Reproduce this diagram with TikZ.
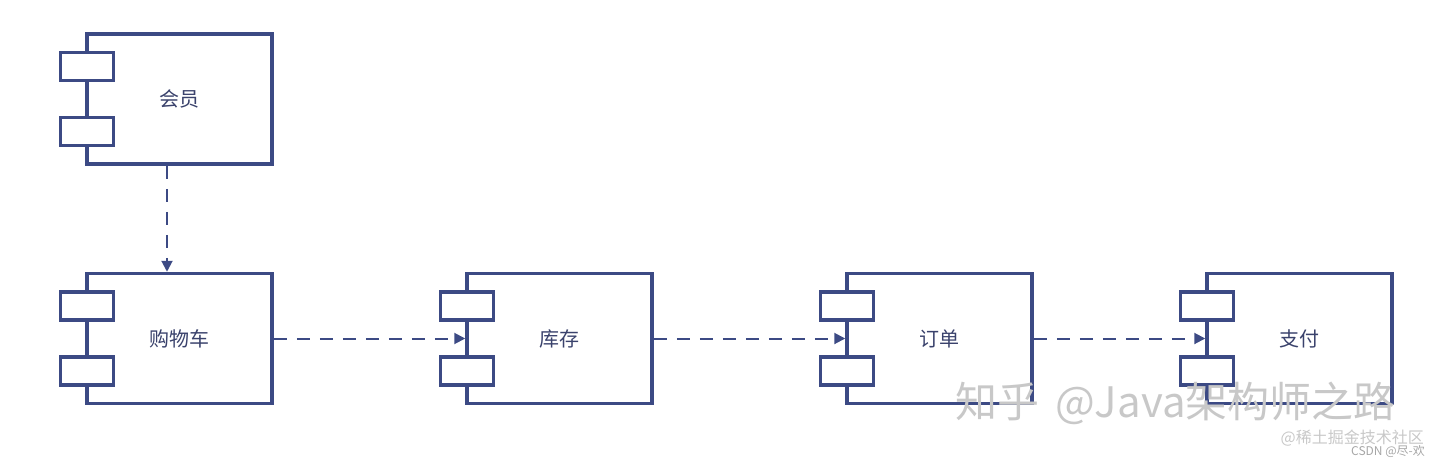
\documentclass[tikz,border=0pt]{standalone}
\usepackage{fontspec}
\setmainfont{Noto Sans CJK SC}
\usetikzlibrary{positioning,arrows.meta}

\definecolor{umlblue}{RGB}{60,74,132}
\definecolor{umltext}{RGB}{58,66,108}
\definecolor{markgray}{RGB}{200,200,200}

\begin{document}
\begin{tikzpicture}[
    x=1pt,y=-1pt,
    comp/.style={draw=umlblue, line width=3.5pt, fill=white, minimum width=185pt, minimum height=130pt,
                 inner sep=0pt, text=umltext, font=\fontsize{20pt}{24pt}\selectfont},
    port/.style={draw=umlblue, line width=3.5pt, fill=white, minimum width=53pt, minimum height=28pt, inner sep=0pt},
    dep/.style={draw=umlblue, line width=2pt, dash pattern=on 13pt off 10pt,
                -{Triangle[length=11pt,width=11pt]}},
    wmark/.style={text=markgray, inner sep=0pt}
]
    \useasboundingbox (0,0) rectangle (1440,466);

    % components
    \node[comp] (hy)  at (179.5,99)    {会员};
    \node[comp] (gwc) at (179.5,338.5) {购物车};
    \node[comp] (kc)  at (559.5,338.5) {库存};
    \node[comp] (dd)  at (939.5,338.5) {订单};
    \node[comp] (zf)  at (1299.5,338.5){支付};

    % the two little boxes on the left side
    \foreach \c in {hy,gwc,kc,dd,zf} {
        \node[port] (\c-p1) at ([xshift=1.5pt,yshift=32.5pt]\c.west) {};
        \node[port] (\c-p2) at ([xshift=1.5pt,yshift=-32.5pt]\c.west) {};
    }

    % dependencies
    \draw[dep] ([xshift=-12.5pt]hy.south) -- ([xshift=-12.5pt]gwc.north);
    \draw[dep] (gwc.east) -- (kc.west);
    \draw[dep] (kc.east)  -- (dd.west);
    \draw[dep] (dd.east)  -- (zf.west);

    % watermarks
    \node[wmark, anchor=west, font=\fontsize{42pt}{46pt}\selectfont] (wm1) at (955,403) {知乎\hspace{16pt}@Java架构师之路};
    \node[wmark, anchor=east, font=\fontsize{16pt}{18pt}\selectfont] (wm2) at (1424,438) {@稀土掘金技术社区};
    \node[wmark, anchor=east, text=gray!70, font=\fontsize{12pt}{14pt}\selectfont] (wm3) at (1425,451) {CSDN @尽-欢};
\end{tikzpicture}
\end{document}
